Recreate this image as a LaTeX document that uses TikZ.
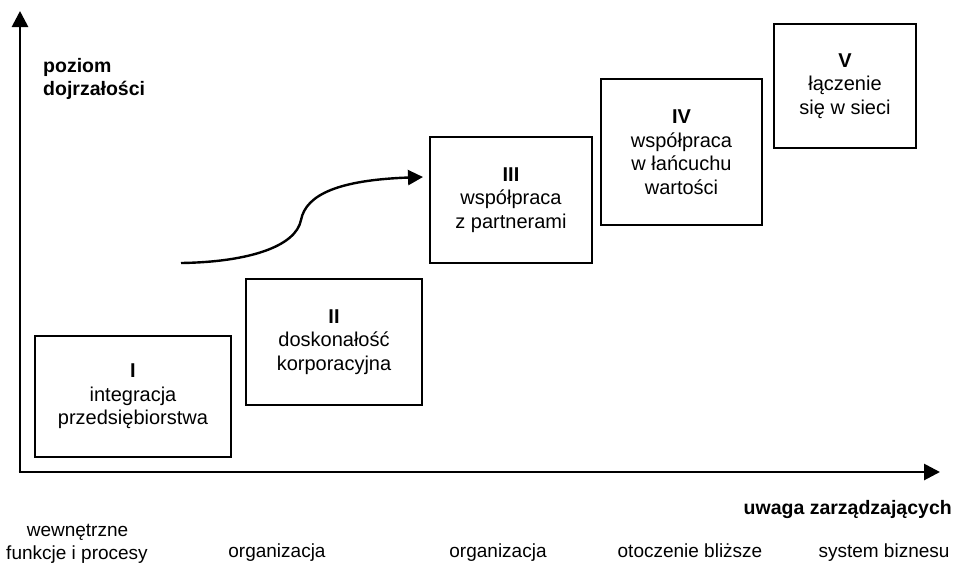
\documentclass[tikz,border=0pt]{standalone}
\usepackage{fontspec}
\setmainfont{Liberation Sans}
\usetikzlibrary{arrows.meta}
\begin{document}
\begin{tikzpicture}[x=1pt,y=-1pt,
  stage/.style={draw,line width=1.6pt,align=center,inner sep=0pt,
    font=\fontsize{20}{23.5}\selectfont},
  axis/.style={line width=2.8pt,-{Triangle[length=16pt,width=16pt]}},
  lbl/.style={inner sep=0pt,anchor=base,font=\fontsize{19}{23}\selectfont},
  blbl/.style={inner sep=0pt,font=\bfseries\fontsize{19.5}{23}\selectfont}]
\useasboundingbox (0,0) rectangle (956,566);
\coordinate (O) at (20,472);
\coordinate (Ytip) at (20,11);
\coordinate (Xtip) at (940,472);
\draw[axis] (O) -- (Ytip);
\draw[axis] ([xshift=-1.4pt]O) -- (Xtip);

\node[stage,minimum width=196pt,minimum height=121pt] (s1) at (133,396.5)
  {\textbf{I}\\integracja\\przedsiębiorstwa};
\node[stage,minimum width=176pt,minimum height=126pt] (s2) at (334,342)
  {\textbf{II}\\doskonałość\\korporacyjna};
\node[stage,minimum width=162pt,minimum height=126pt] (s3) at (511,200)
  {\textbf{III}\\współpraca\\z partnerami};
\node[stage,minimum width=161pt,minimum height=146pt] (s4) at (681.5,152)
  {\textbf{IV}\\współpraca\\w łańcuchu\\wartości};
\node[stage,minimum width=142pt,minimum height=124pt] (s5) at (845,86)
  {\textbf{V}\\łączenie\\się w sieci};

\coordinate (c0) at (181,263);
\coordinate (cm) at (301,220);
\coordinate (c1) at (423,177);
\draw[line width=2.4pt,-{Triangle[length=15pt,width=15pt]}]
  (c0) .. controls (250,262) and (296,246) .. (cm)
       .. controls (306,194) and (340,180) .. (c1);

\node[blbl,anchor=base west] (ylab1) at (43,72) {poziom};
\node[blbl,anchor=base west] (ylab2) at (43,95) {dojrzałości};
\node[blbl,anchor=base east] (xlab) at (952,514) {uwaga zarządzających};

\node[lbl] (b0) at (77.5,536) {wewnętrzne};
\node[lbl] (b1) at (77,559) {funkcje i procesy};
\node[lbl] (b2) at (277,557) {organizacja};
\node[lbl] (b3) at (498,557) {organizacja};
\node[lbl] (b4) at (690,557) {otoczenie bliższe};
\node[lbl] (b5) at (884,557) {system biznesu};
\end{tikzpicture}
\end{document}
